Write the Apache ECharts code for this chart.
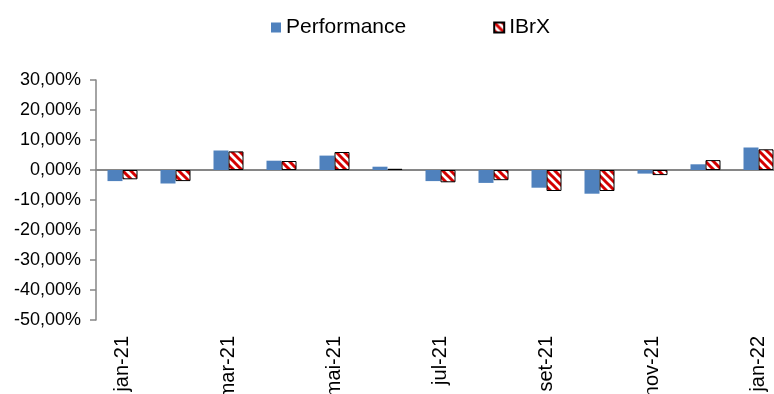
<!DOCTYPE html>
<html lang="pt">
<head>
    <meta charset="UTF-8">
    <title>Performance x IBrX</title>
    <script src="https://cdnjs.cloudflare.com/ajax/libs/echarts/6.0.0/echarts.min.js"></script>
    <style>
        html, body { margin: 0; padding: 0; background: #fff; }
    </style>
</head>
<body>
    <div id="main" style="width: 774px;height:394px;"></div>
    <script>
        // dados mensais (%)
        const months = ['jan-21', 'fev-21', 'mar-21', 'abr-21', 'mai-21', 'jun-21', 'jul-21',
            'ago-21', 'set-21', 'out-21', 'nov-21', 'dez-21', 'jan-22'];
        const performance = [-3.7, -4.5, 6.5, 3.1, 4.8, 1.1, -3.7, -4.3, -5.9, -7.9, -1.2, 1.9, 7.5];
        const ibrx = [-3.1, -3.7, 6.2, 3.0, 6.0, 0.4, -4.1, -3.4, -7.0, -7.0, -1.7, 3.3, 6.9];

        const axisGray = '#868686';
        const font = '"Liberation Sans", Arial, sans-serif';

        // hachura vermelha/branca do IBrX
        function stripes() {
            const c = document.createElement('canvas');
            c.width = 8; c.height = 8;
            const ctx = c.getContext('2d');
            ctx.fillStyle = '#fff';
            ctx.fillRect(0, 0, 8, 8);
            ctx.strokeStyle = '#d40000';
            ctx.lineWidth = 3;
            for (let k = -8; k <= 8; k += 8) {
                ctx.beginPath();
                ctx.moveTo(k - 2, -2);
                ctx.lineTo(k + 10, 10);
                ctx.stroke();
            }
            return c;
        }

        const chart = echarts.init(document.getElementById('main'));

        const option = {
            animation: false,
            textStyle: { fontFamily: font },
            legend: {
                left: 266,
                top: 12,
                itemWidth: 10,
                itemHeight: 10,
                itemGap: 87,
                icon: 'rect',
                textStyle: { fontSize: 21, color: '#000', fontFamily: font },
                data: ['Performance', 'IBrX']
            },
            grid: {
                left: 96,
                right: -11,
                top: 80,
                bottom: 74,
                containLabel: false,
                outerBoundsMode: 'none'
            },
            xAxis: [
                {
                    type: 'category',
                    data: months,
                    axisLine: { onZero: true, lineStyle: { color: axisGray, width: 2 } },
                    axisTick: { interval: 1, length: 6, lineStyle: { color: axisGray, width: 1.5 } },
                    axisLabel: { show: false }
                },
                {
                    type: 'category',
                    data: months,
                    position: 'bottom',
                    axisLine: { show: false, onZero: false },
                    axisTick: { show: false },
                    axisLabel: {
                        interval: 1,
                        rotate: 90,
                        margin: 16,
                        fontSize: 20,
                        color: '#000',
                        fontFamily: font
                    }
                }
            ],
            yAxis: {
                type: 'value',
                min: -50,
                max: 30,
                interval: 10,
                splitLine: { show: false },
                axisLine: { show: true, lineStyle: { color: axisGray, width: 1.5 } },
                axisTick: { show: true, length: 6, lineStyle: { color: axisGray, width: 1.5 } },
                axisLabel: {
                    margin: 15,
                    fontSize: 18,
                    color: '#000',
                    fontFamily: font,
                    formatter: (v) => v.toFixed(2).replace('.', ',') + '%'
                }
            },
            series: [
                {
                    name: 'Performance',
                    type: 'bar',
                    xAxisIndex: 0,
                    data: performance,
                    barWidth: 15,
                    barGap: '0%',
                    itemStyle: { color: '#4f81bd' }
                },
                {
                    name: 'IBrX',
                    type: 'bar',
                    xAxisIndex: 0,
                    data: ibrx,
                    barWidth: 15,
                    barGap: '0%',
                    itemStyle: {
                        color: { image: stripes(), repeat: 'repeat' },
                        borderColor: '#000',
                        borderWidth: 1
                    }
                }
            ]
        };

        chart.setOption(option);
    </script>
</body>
</html>
